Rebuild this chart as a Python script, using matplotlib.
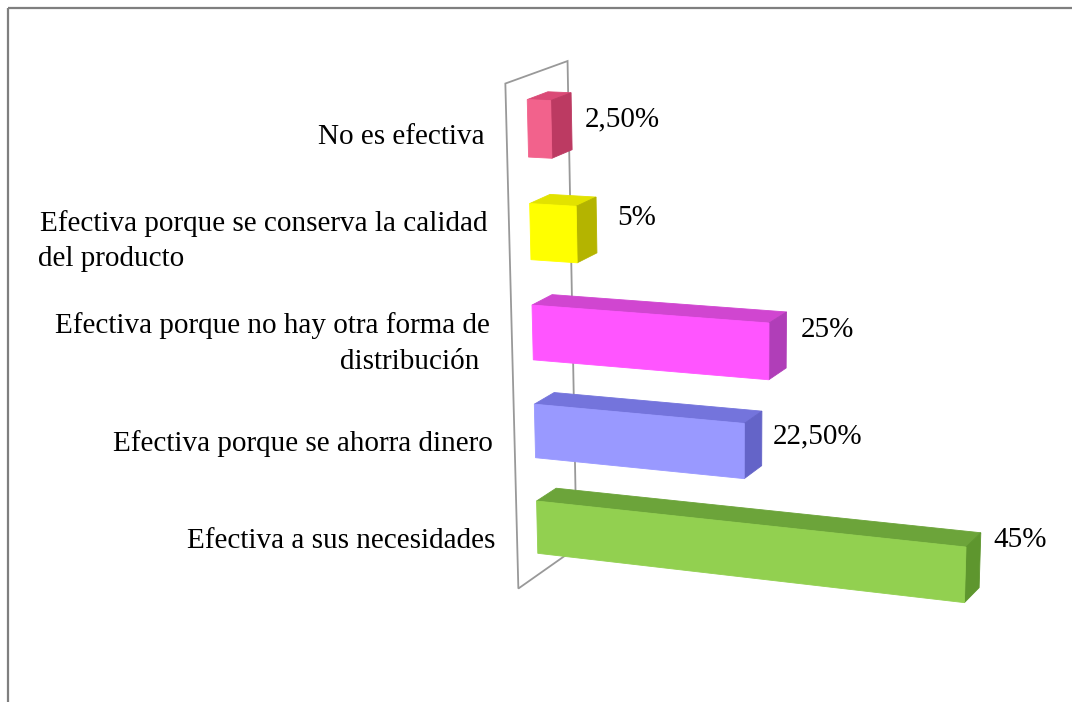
import numpy as np
import matplotlib
matplotlib.use("Agg")
import matplotlib.pyplot as plt
from matplotlib.patches import Polygon, Rectangle

# --- data -------------------------------------------------------------
categories = [
    "No es efectiva",
    "Efectiva porque se conserva la calidad\ndel producto",
    "Efectiva porque no hay otra forma de\ndistribución",
    "Efectiva porque se ahorra dinero",
    "Efectiva a sus necesidades",
]
values = [2.5, 5.0, 25.0, 22.5, 45.0]
value_labels = ["2,50%", "5%", "25%", "22,50%", "45%"]

# --- styling ----------------------------------------------------------
front_colors = ["#F2628C", "#FFFF00", "#FF55FF", "#9999FF", "#92D050"]
top_colors = ["#DA4A76", "#E2E200", "#D046D0", "#7474DC", "#6CA43A"]
side_colors = ["#BC3A62", "#B4B400", "#B03EB8", "#6464C8", "#5E962E"]

BAR_HALF = 0.275          # half thickness of a bar (in category units)
BAR_DEPTH = 1.0           # depth of a bar
WALL_Z = (-1.0, 2.0)      # depth extent of the back wall
WALL_Y = (-0.5, 4.5)      # vertical extent of the back wall

# perspective camera (world x=value, y=category row, z=depth -> pixels)
CAMERA = np.array([
    [8.52505, 8.82887, 28.3326, 527.895],
    [0.249031, 106.097, -6.47937, 128.411],
    [-0.00149991, 0.0121164, 0.01413, 1.0],
])


def project(x, y, z):
    h = CAMERA @ np.array([x, y, z, 1.0])
    return h[0] / h[2], h[1] / h[2]


def face(points):
    return [project(*p) for p in points]


serif = ["Liberation Serif", "DejaVu Serif"]
FS = 21

fig = plt.figure(figsize=(10.72, 7.02), dpi=100)
ax = fig.add_axes([0, 0, 1, 1])
ax.set_xlim(0, 1072)
ax.set_ylim(702, 0)
ax.axis("off")

# chart frame
ax.add_patch(Rectangle((8, 8), 1100, 720, fill=False, edgecolor="#7F7F7F",
                       linewidth=1.6, zorder=1))

# back wall (value axis plane)
z0, z1 = WALL_Z
y0, y1 = WALL_Y
wall = face([(0, y0, z0), (0, y0, z1), (0, y1, z1), (0, y1, z0)])
ax.add_patch(Polygon(wall, closed=True, fill=False, edgecolor="#999999",
                     linewidth=1.3, joinstyle="miter", zorder=2))

# 3-D bars
for i, v in enumerate(values):
    yt, yb = i - BAR_HALF, i + BAR_HALF
    d = BAR_DEPTH
    top = face([(0, yt, 0), (v, yt, 0), (v, yt, d), (0, yt, d)])
    side = face([(v, yt, 0), (v, yt, d), (v, yb, d), (v, yb, 0)])
    front = face([(0, yt, 0), (v, yt, 0), (v, yb, 0), (0, yb, 0)])
    for pts, col in ((top, top_colors[i]), (side, side_colors[i]),
                     (front, front_colors[i])):
        ax.add_patch(Polygon(pts, closed=True, facecolor=col, edgecolor=col,
                             linewidth=0.6, joinstyle="miter", zorder=3))

# category labels
second_line_x = [None, 38, 340, None, None]
for i, lab in enumerate(categories):
    lx, ly = project(0, i, WALL_Z[0])
    lx -= 22
    lines = lab.split("\n")
    if len(lines) == 1:
        ax.text(lx, ly, lines[0], ha="right", va="center", fontsize=FS,
                family=serif, color="#000000", zorder=4)
    else:
        ax.text(lx, ly - 18, lines[0], ha="right", va="center", fontsize=FS,
                family=serif, color="#000000", zorder=4)
        ax.text(second_line_x[i], ly + 18, lines[1], ha="left", va="center",
                fontsize=FS, family=serif, color="#000000", zorder=4)

# value labels next to the bar ends
label_nudge = [(13, -2), (21, -7), (14, -10), (11, -2), (13, -20)]
for i, (v, txt) in enumerate(zip(values, value_labels)):
    ex, ey = project(v, i, BAR_DEPTH)
    dx, dy = label_nudge[i]
    ax.text(ex + dx, ey + dy, txt, ha="left", va="center", fontsize=FS,
            family=serif, color="#000000", zorder=4)

fig.savefig("out.png", dpi=100)
